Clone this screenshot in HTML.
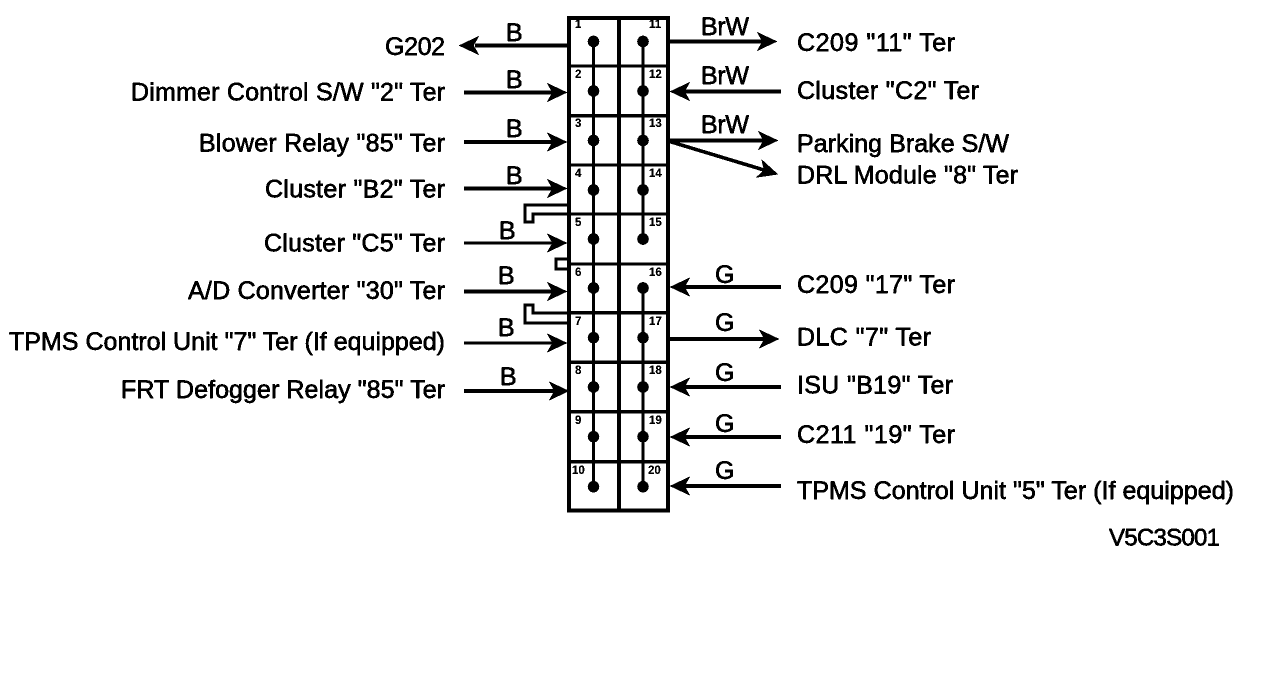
<!DOCTYPE html>
<html>
<head>
<meta charset="utf-8">
<style>
html,body{margin:0;padding:0;background:#fff;width:1264px;height:680px;overflow:hidden}
svg{display:block}
.t{font-family:"Liberation Sans",sans-serif;font-size:25px;fill:#000;stroke:#000;stroke-width:.55}
.n{font-family:"Liberation Sans",sans-serif;font-size:11.5px;font-weight:bold;fill:#000}
.w{stroke:#000;stroke-width:3.4;fill:none}
.g{stroke:#000;stroke-width:3;fill:none}
.b{stroke:#000;stroke-width:3.6;fill:none}
</style>
</head>
<body>
<svg width="1264" height="680" viewBox="0 0 1264 680" xmlns="http://www.w3.org/2000/svg">
<defs>
<path id="ar" d="M0 0 L-18 -8.5 L-13 0 L-18 8.5 Z" fill="#000" stroke="#000" stroke-width="1"/>
<filter id="th" x="0" y="0" width="100%" height="100%" color-interpolation-filters="sRGB">
<feComponentTransfer>
<feFuncR type="discrete" tableValues="0 0 1"/>
<feFuncG type="discrete" tableValues="0 0 1"/>
<feFuncB type="discrete" tableValues="0 0 1"/>
</feComponentTransfer>
</filter>
</defs>
<g filter="url(#th)">
<rect width="1264" height="680" fill="#fff"/>

<!-- connector box -->
<rect x="569" y="18" width="99" height="492.5" class="b"/>
<line x1="619" y1="18" x2="619" y2="510" class="b"/>
<g class="g">
<line x1="569" y1="66" x2="668" y2="66"/>
<line x1="569" y1="115.7" x2="668" y2="115.7"/>
<line x1="569" y1="165" x2="668" y2="165"/>
<line x1="569" y1="214" x2="668" y2="214"/>
<line x1="569" y1="264" x2="668" y2="264"/>
<line x1="569" y1="312.7" x2="668" y2="312.7"/>
<line x1="569" y1="362.3" x2="668" y2="362.3"/>
<line x1="569" y1="411.7" x2="668" y2="411.7"/>
<line x1="569" y1="461.7" x2="668" y2="461.7"/>
<line x1="593.5" y1="41.5" x2="593.5" y2="486.5"/>
<line x1="643" y1="41.5" x2="643" y2="239"/>
<line x1="643" y1="288" x2="643" y2="486.5"/>
</g>
<g fill="#000">
<circle cx="593.5" cy="41.5" r="5.7"/><circle cx="643" cy="41.5" r="5.7"/>
<circle cx="593.5" cy="91" r="5.7"/><circle cx="643" cy="91" r="5.7"/>
<circle cx="593.5" cy="140.5" r="5.7"/><circle cx="643" cy="140.5" r="5.7"/>
<circle cx="593.5" cy="190" r="5.7"/><circle cx="643" cy="190" r="5.7"/>
<circle cx="593.5" cy="239" r="5.7"/><circle cx="643" cy="239" r="5.7"/>
<circle cx="593.5" cy="288" r="5.7"/><circle cx="643" cy="288" r="5.7"/>
<circle cx="593.5" cy="337.7" r="5.7"/><circle cx="643" cy="337.7" r="5.7"/>
<circle cx="593.5" cy="387" r="5.7"/><circle cx="643" cy="387" r="5.7"/>
<circle cx="593.5" cy="436.7" r="5.7"/><circle cx="643" cy="436.7" r="5.7"/>
<circle cx="593.5" cy="486.7" r="5.7"/><circle cx="643" cy="486.7" r="5.7"/>
</g>

<!-- pin numbers -->
<text class="n" x="575" y="28">1</text>
<text class="n" x="575" y="78">2</text>
<text class="n" x="575" y="127">3</text>
<text class="n" x="575" y="177">4</text>
<text class="n" x="575" y="226">5</text>
<text class="n" x="575" y="276">6</text>
<text class="n" x="575" y="325">7</text>
<text class="n" x="575" y="374">8</text>
<text class="n" x="575" y="424">9</text>
<text class="n" x="572" y="474">10</text>
<text class="n" x="649" y="28">11</text>
<text class="n" x="649" y="78">12</text>
<text class="n" x="649" y="127">13</text>
<text class="n" x="649" y="177">14</text>
<text class="n" x="649" y="226">15</text>
<text class="n" x="649" y="276">16</text>
<text class="n" x="649" y="325">17</text>
<text class="n" x="649" y="374">18</text>
<text class="n" x="649" y="424">19</text>
<text class="n" x="648" y="474">20</text>

<!-- jumpers -->
<polyline class="g" points="568,205 525,205 525,222 533,222 533,214 568,214"/>
<polyline class="g" points="568,259 556,259 556,269 568,269"/>
<polyline class="g" points="568,313 533,313 533,305 525,305 525,323 568,323"/>

<!-- left wires -->
<line class="w" x1="475" y1="45.5" x2="568" y2="45.5"/>
<use href="#ar" transform="translate(460,45.5) rotate(180)"/>
<line class="w" x1="464" y1="92.5" x2="552" y2="92.5"/><use href="#ar" transform="translate(566,92.5)"/>
<line class="w" x1="464" y1="142" x2="552" y2="142"/><use href="#ar" transform="translate(566,142)"/>
<line class="w" x1="464" y1="188.5" x2="552" y2="188.5"/><use href="#ar" transform="translate(566,188.5)"/>
<line class="w" x1="464" y1="243" x2="552" y2="243" style="stroke-width:3"/><use href="#ar" transform="translate(566,243)"/>
<line class="w" x1="464" y1="291.5" x2="552" y2="291.5"/><use href="#ar" transform="translate(566,291.5)"/>
<line class="w" x1="464" y1="343" x2="552" y2="343" style="stroke-width:3"/><use href="#ar" transform="translate(566,343)"/>
<line class="w" x1="464" y1="391" x2="554" y2="391"/><use href="#ar" transform="translate(568,391)"/>

<!-- right wires -->
<line class="w" x1="668" y1="41.5" x2="762" y2="41.5"/><use href="#ar" transform="translate(776,41.5)"/>
<line class="w" x1="685" y1="91.5" x2="781" y2="91.5"/><use href="#ar" transform="translate(671,91.5) rotate(180)"/>
<line class="w" x1="668" y1="140.5" x2="763" y2="140.5"/><use href="#ar" transform="translate(777,140.5)"/>
<line class="w" x1="668" y1="141" x2="764" y2="170"/><use href="#ar" transform="translate(777,174) rotate(16.8)"/>
<line class="w" x1="685" y1="287" x2="781" y2="287"/><use href="#ar" transform="translate(671,287) rotate(180)"/>
<line class="w" x1="668" y1="339" x2="764" y2="339"/><use href="#ar" transform="translate(778,339)"/>
<line class="w" x1="685" y1="387" x2="781" y2="387"/><use href="#ar" transform="translate(671,387) rotate(180)"/>
<line class="w" x1="685" y1="437" x2="781" y2="437"/><use href="#ar" transform="translate(671,437) rotate(180)"/>
<line class="w" x1="685" y1="486" x2="781" y2="486"/><use href="#ar" transform="translate(671,486) rotate(180)"/>

<!-- wire colour labels -->
<text class="t" x="506" y="41">B</text>
<text class="t" x="506" y="88">B</text>
<text class="t" x="506" y="137">B</text>
<text class="t" x="506" y="184">B</text>
<text class="t" x="499" y="239">B</text>
<text class="t" x="498" y="284">B</text>
<text class="t" x="498" y="336">B</text>
<text class="t" x="500" y="385">B</text>
<text class="t" x="701" y="35" textLength="48">BrW</text>
<text class="t" x="701" y="84" textLength="48">BrW</text>
<text class="t" x="701" y="133" textLength="48">BrW</text>
<text class="t" x="715" y="283">G</text>
<text class="t" x="715" y="331">G</text>
<text class="t" x="715" y="381">G</text>
<text class="t" x="715" y="432">G</text>
<text class="t" x="715" y="479">G</text>

<!-- left labels -->
<text class="t" x="385" y="55" textLength="60">G202</text>
<text class="t" x="131" y="100.5" textLength="314">Dimmer Control S/W "2" Ter</text>
<text class="t" x="199" y="151.5" textLength="246">Blower Relay "85" Ter</text>
<text class="t" x="265" y="197.5" textLength="180">Cluster "B2" Ter</text>
<text class="t" x="264" y="251.5" textLength="181">Cluster "C5" Ter</text>
<text class="t" x="188" y="299" textLength="257">A/D Converter "30" Ter</text>
<text class="t" x="9" y="350" textLength="436">TPMS Control Unit "7" Ter (If equipped)</text>
<text class="t" x="121" y="398" textLength="324">FRT Defogger Relay "85" Ter</text>

<!-- right labels -->
<text class="t" x="797" y="51" textLength="158">C209 "11" Ter</text>
<text class="t" x="797" y="99" textLength="182">Cluster "C2" Ter</text>
<text class="t" x="797" y="152" textLength="212">Parking Brake S/W</text>
<text class="t" x="797" y="183.5" textLength="221">DRL Module "8" Ter</text>
<text class="t" x="797" y="293" textLength="158">C209 "17" Ter</text>
<text class="t" x="797" y="345.5" textLength="134">DLC "7" Ter</text>
<text class="t" x="797" y="393.5" textLength="156">ISU "B19" Ter</text>
<text class="t" x="797" y="443" textLength="158">C211 "19" Ter</text>
<text class="t" x="797" y="499" textLength="437">TPMS Control Unit "5" Ter (If equipped)</text>
<text class="t" x="1109" y="545.5" textLength="111" style="font-size:24px">V5C3S001</text>
</g>
</svg>
</body>
</html>
